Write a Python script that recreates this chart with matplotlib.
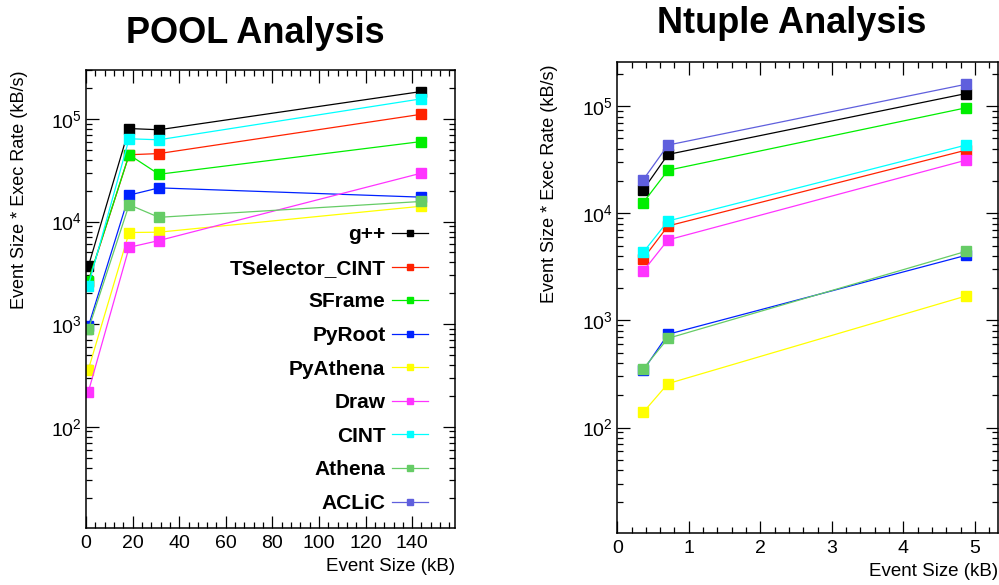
import matplotlib
matplotlib.use("Agg")
import matplotlib.pyplot as plt
from matplotlib.ticker import LogLocator, MultipleLocator, NullFormatter

plt.rcParams['font.family'] = ['Liberation Sans', 'DejaVu Sans']
plt.rcParams['mathtext.fontset'] = 'custom'
plt.rcParams['mathtext.rm'] = 'Liberation Sans'

names = ["g++", "TSelector_CINT", "SFrame", "PyRoot", "PyAthena",
         "Draw", "CINT", "Athena", "ACLiC"]
colors = ["#000000", "#ff2200", "#00ee00", "#0022ff", "#ffff00",
          "#ff33ff", "#00ffff", "#66cc66", "#5f5fdd"]

# POOL analysis
pool_x = [1.0, 18.5, 31.3, 143.8]
pool_y = {
    "g++":            [3660, 80700, 78500, 185000],
    "TSelector_CINT": [2600, 44800, 46000, 111000],
    "SFrame":         [2650, 44800, 28900, 60200],
    "PyRoot":         [950, 18100, 21300, 17300],
    "PyAthena":       [360, 7820, 7880, 14100],
    "Draw":           [219, 5610, 6530, 29600],
    "CINT":           [2380, 64100, 62700, 157000],
    "Athena":         [888, 14600, 11000, 15700],
    "ACLiC":          [],
}

# Ntuple analysis
ntup_x = [0.364, 0.709, 4.877]
ntup_y = {
    "g++":            [16600, 35400, 131000],
    "TSelector_CINT": [3780, 7610, 38800],
    "SFrame":         [12600, 25200, 96400],
    "PyRoot":         [342, 742, 4050],
    "PyAthena":       [139, 257, 1690],
    "Draw":           [2890, 5640, 31300],
    "CINT":           [4330, 8470, 43300],
    "Athena":         [354, 680, 4410],
    "ACLiC":          [20600, 43300, 160000],
}

fig = plt.figure(figsize=(9.99, 5.85), dpi=100)
ax1 = fig.add_axes([0.0861, 0.0974, 0.3694, 0.7829])
ax2 = fig.add_axes([0.6179, 0.0884, 0.3808, 0.8062])


def style(ax, major, minor):
    ax.set_yscale('log')
    ax.xaxis.set_major_locator(MultipleLocator(major))
    ax.xaxis.set_minor_locator(MultipleLocator(minor))
    ax.yaxis.set_major_locator(LogLocator(base=10, numticks=20))
    ax.yaxis.set_minor_locator(LogLocator(base=10, subs=range(2, 10), numticks=20))
    ax.yaxis.set_minor_formatter(NullFormatter())
    ax.tick_params(which='both', direction='in', top=True, right=True,
                   labelsize=14, width=0.9)
    ax.tick_params(which='major', length=9)
    ax.tick_params(which='minor', length=4.5)
    ax.tick_params(axis='x', pad=5)
    ax.tick_params(axis='y', pad=3)
    for s in ax.spines.values():
        s.set_linewidth(1.1)
    ax.set_ylabel("Event Size * Exec Rate (kB/s)", fontsize=13, loc='top')
    ax.set_xlabel("Event Size (kB)", fontsize=13.5, loc='right')


for n, c in zip(names, colors):
    ax1.plot(pool_x[:len(pool_y[n])], pool_y[n], '-s', color=c, lw=0.9,
             ms=7.5, label=n)
    ax2.plot(ntup_x, ntup_y[n], '-s', color=c, lw=0.9, ms=7.5)

style(ax1, 20, 4)
ax1.set_xlim(0, 158.4)
ax1.set_ylim(10.3, 3e5)
ax1.yaxis.set_label_coords(-0.158, 1.0)

style(ax2, 1, 0.2)
ax2.set_xlim(0, 5.32)
ax2.set_ylim(10.3, 2.6e5)
ax2.yaxis.set_label_coords(-0.155, 0.995)

leg = ax1.legend(loc='upper right', bbox_to_anchor=(0.927, 0.661), frameon=False,
                 markerfirst=False, borderpad=0, borderaxespad=0,
                 handlelength=1.75, handletextpad=0.3, labelspacing=0.7,
                 markerscale=0.6, prop={'weight': 'bold', 'size': 15})
for col in leg._legend_box._children[1]._children:
    col.align = 'right'

fig.text(0.256, 1 - 43 / 585, "POOL Analysis", ha='center', va='baseline',
         fontsize=26, fontweight='bold')
fig.text(0.792, 1 - 33 / 585, "Ntuple Analysis", ha='center', va='baseline',
         fontsize=26, fontweight='bold')

fig.savefig("out.png", dpi=100)
